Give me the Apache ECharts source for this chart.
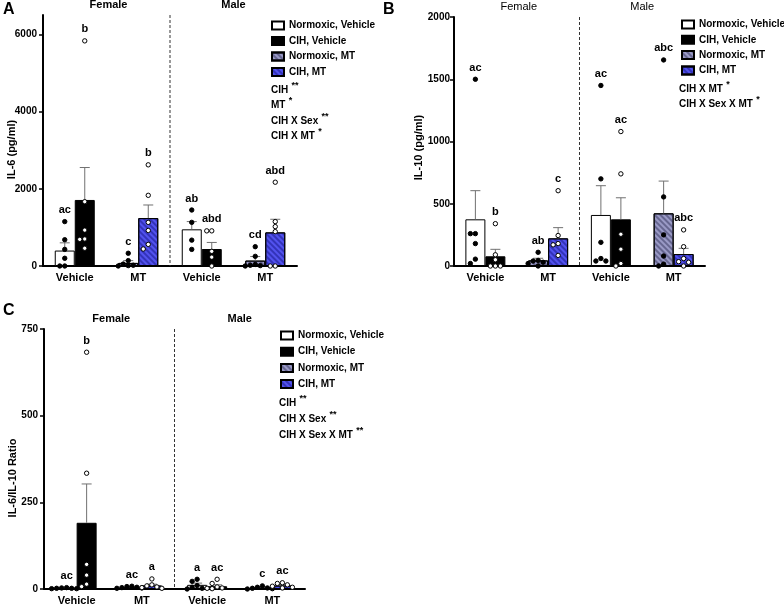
<!DOCTYPE html>
<html>
<head>
<meta charset="utf-8">
<script src="https://cdn.jsdelivr.net/npm/echarts@6/dist/echarts.min.js"></script>
<style>
html, body { margin: 0; padding: 0; background: #fff; }
#main { width: 784px; height: 606px; }
</style>
</head>
<body>
<div id="main"></div>
<script>
var groups = ['Vehicle', 'MT', 'Vehicle', 'MT'];
var seriesNames = ['Normoxic, Vehicle', 'CIH, Vehicle', 'Normoxic, MT', 'CIH, MT'];

// bar order: F-Veh-Norm, F-Veh-CIH, F-MT-Norm, F-MT-CIH, M-Veh-Norm, M-Veh-CIH, M-MT-Norm, M-MT-CIH
var il6Mean = [400, 1710, 80, 1240, 950, 440, 140, 870];
var il6Sem = [200, 840, 60, 340, 200, 170, 105, 340];
var il6Points = [
  [1150, 680, 430, 200, 0, 0],
  [5830, 1665, 930, 700, 690, 460],
  [330, 140, 50, 20, 10, 0],
  [2620, 1830, 1130, 920, 560, 440],
  [1450, 1130, 670, 430],
  [910, 910, 380, 230, 0],
  [500, 250, 40, 20, 10, 0],
  [2170, 1150, 1020, 890, 0, 0]
];
var il6Letters = ['ac', 'b', 'c', 'b', 'ab', 'abd', 'cd', 'abd'];

var il10Mean = [375, 78, 45, 222, 410, 375, 423, 96];
var il10Sem = [230, 56, 17, 86, 235, 173, 259, 46];
var il10Points = [
  [1500, 260, 260, 180, 55, 20],
  [340, 90, 50, 0, 0, 0],
  [110, 45, 40, 30, 20, 0],
  [605, 245, 180, 170, 85],
  [1450, 700, 190, 60, 40, 40],
  [1080, 740, 255, 135, 20, 0],
  [1655, 555, 250, 80, 15, 0],
  [290, 155, 60, 35, 30, 0]
];
var il10Letters = ['ac', 'b', 'ab', 'c', 'ac', 'ac', 'abc', 'abc'];

var ratioMean = [2, 191, 5, 10, 12, 8, 4, 10];
var ratioSem = [1, 112, 1.5, 4, 5, 4, 1.5, 3];
var ratioPoints = [
  [4, 3, 2, 2, 1, 1],
  [683, 334, 71, 40, 14, 7],
  [8, 7, 5, 4, 3, 2],
  [29, 12, 9, 6, 4, 2],
  [28, 22, 10, 5, 2, 0],
  [28, 16, 6, 3, 2, 1],
  [9, 5, 3, 2, 1, 0],
  [18, 16, 12, 8, 5, 3]
];
var ratioLetters = ['ac', 'b', 'ac', 'a', 'a', 'ac', 'c', 'ac'];

var statsA = [['CIH', '**'], ['MT', '*'], ['CIH X Sex', '**'], ['CIH X MT', '*']];
var statsB = [['CIH X MT', '*'], ['CIH X Sex X MT', '*']];
var statsC = [['CIH', '**'], ['CIH X Sex', '**'], ['CIH X Sex X MT', '**']];

var FONT = '"Liberation Sans", Arial, sans-serif';

var panels = [
  { tag: 'A', tagPos: [3, 2], grid: { left: 43, top: 15, width: 254, height: 251 }, max: 6500, ticks: [0, 2000, 4000, 6000],
    name: 'IL-6 (pg/ml)', nameGap: 26, nameShift: 18, labelMargin: 6, mean: il6Mean, sem: il6Sem, pts: il6Points, letters: il6Letters,
    legend: [266, 15], row: 15.5, stats: statsA, statsPos: [271, 81], headBold: true },
  { tag: 'B', tagPos: [383, 2], grid: { left: 454, top: 17, width: 251, height: 249 }, max: 2000, ticks: [0, 500, 1000, 1500, 2000],
    name: 'IL-10 (pg/ml)', nameGap: 30, nameShift: 12, labelMargin: 4, mean: il10Mean, sem: il10Sem, pts: il10Points, letters: il10Letters,
    legend: [676, 14], row: 15.3, stats: statsB, statsPos: [679, 80], headBold: false },
  { tag: 'C', tagPos: [3, 303], grid: { left: 44, top: 329, width: 261, height: 260 }, max: 750, ticks: [0, 250, 500, 750],
    name: 'IL-6/IL-10 Ratio', nameGap: 26, nameShift: 38, labelMargin: 6, mean: ratioMean, sem: ratioSem, pts: ratioPoints, letters: ratioLetters,
    legend: [275, 325], row: 16.2, stats: statsC, statsPos: [279, 394], headBold: true }
];

var barStyles = [
  { color: '#ffffff', borderColor: '#000', borderWidth: 1 },
  { color: '#000000', borderColor: '#000', borderWidth: 1 },
  { color: '#9a9ac6', borderColor: '#000', borderWidth: 1,
    decal: { symbol: 'rect', symbolSize: 1, dashArrayX: [1, 0], dashArrayY: [1.5, 2], rotation: Math.PI / 4, color: 'rgba(60,60,100,0.55)' } },
  { color: '#5252ee', borderColor: '#000', borderWidth: 1,
    decal: { symbol: 'rect', symbolSize: 1, dashArrayX: [1, 0], dashArrayY: [1.5, 2], rotation: Math.PI / 4, color: 'rgba(30,30,150,0.6)' } }
];

// simple beeswarm so equal values sit side by side
function swarm(values, pxPerUnit) {
  var order = values.map(function (v, i) { return i; })
    .sort(function (a, b) { return values[b] - values[a]; });
  var placed = [], dx = [];
  var d = 5, cands = [0, -d, d, -2 * d, 2 * d, -3 * d, 3 * d];
  order.forEach(function (i) {
    var y = values[i] * pxPerUnit, x = 0;
    for (var k = 0; k < cands.length; k++) {
      x = cands[k];
      var ok = true;
      for (var j = 0; j < placed.length; j++) {
        var a = placed[j][0] - x, b = placed[j][1] - y;
        if (a * a + b * b < d * d * 0.95) { ok = false; break; }
      }
      if (ok) break;
    }
    placed.push([x, y]);
    dx[i] = x;
  });
  return dx;
}

var option = { animation: false, grid: [], xAxis: [], yAxis: [], legend: [], series: [], graphic: [] };

panels.forEach(function (p, pi) {
  option.grid.push(p.grid);
  option.xAxis.push({
    type: 'category', gridIndex: pi, data: groups,
    axisLine: { lineStyle: { color: '#000', width: 2 } },
    axisTick: { alignWithLabel: true, length: 4, lineStyle: { color: '#000', width: 1.5 } },
    axisLabel: { color: '#000', fontFamily: FONT, fontWeight: 'bold', fontSize: 11, margin: 6 }
  });
  option.yAxis.push({
    type: 'value', gridIndex: pi, min: 0, max: p.max,
    name: p.name, nameLocation: 'middle', nameGap: p.nameGap, nameMoveOverlap: false,
    nameTextStyle: { color: '#000', fontFamily: FONT, fontWeight: 'bold', fontSize: 11, padding: [0, p.nameShift, 0, 0] },
    splitLine: { show: false },
    axisLine: { show: true, lineStyle: { color: '#000', width: 2 } },
    axisTick: { show: true, length: 4, customValues: p.ticks, lineStyle: { color: '#000', width: 1.5 } },
    axisLabel: { customValues: p.ticks, color: '#000', fontFamily: FONT, fontWeight: 'bold', fontSize: 10, margin: p.labelMargin,
      formatter: function (v) { return String(v); } }
  });

  // bars: two stacks per group (normoxic left, CIH right)
  seriesNames.forEach(function (nm, k) {
    var side = k % 2, isMT = k >= 2 ? 1 : 0;
    var data = groups.map(function (g, c) {
      return (c % 2 === isMT) ? p.mean[c * 2 + side] : '-';
    });
    option.series.push({
      type: 'bar', name: nm, xAxisIndex: pi, yAxisIndex: pi, stack: (side ? 'cih' : 'norm') + pi,
      barWidth: 20, barGap: '0%', data: data, itemStyle: barStyles[k], z: 2,
      emphasis: { disabled: true }
    });
  });

  var pxPerUnit = p.grid.height / p.max;
  var errData = [], dotData = [], letterData = [];
  p.mean.forEach(function (m, b) {
    var c = Math.floor(b / 2), side = b % 2;
    errData.push([c, m, side, p.sem[b]]);
    var dx = swarm(p.pts[b], pxPerUnit);
    p.pts[b].forEach(function (v, i) { dotData.push([c, v, side, dx[i]]); });
    letterData.push([c, Math.max(m + p.sem[b], Math.max.apply(null, p.pts[b])), side]);
  });

  option.series.push({
    type: 'custom', xAxisIndex: pi, yAxisIndex: pi, z: 3, silent: true, data: errData,
    encode: { x: 0, y: 1 },
    renderItem: function (params, api) {
      var c = api.value(0), m = api.value(1), side = api.value(2), s = api.value(3);
      var base = api.coord([c, m]), top = api.coord([c, m + s]);
      var x = base[0] + (side ? 10 : -10);
      return { type: 'group', children: [
        { type: 'line', shape: { x1: x, y1: base[1], x2: x, y2: top[1] }, style: { stroke: '#707070', lineWidth: 1 } },
        { type: 'line', shape: { x1: x - 5, y1: top[1], x2: x + 5, y2: top[1] }, style: { stroke: '#707070', lineWidth: 1 } }
      ] };
    }
  });

  option.series.push({
    type: 'custom', xAxisIndex: pi, yAxisIndex: pi, z: 4, silent: true, data: dotData,
    encode: { x: 0, y: 1 },
    renderItem: function (params, api) {
      var c = api.value(0), v = api.value(1), side = api.value(2), dx = api.value(3);
      var pt = api.coord([c, v]);
      return { type: 'circle', shape: { cx: pt[0] + (side ? 10 : -10) + dx, cy: pt[1], r: 2.2 },
        style: { fill: side ? '#fff' : '#000', stroke: '#000', lineWidth: 1 } };
    }
  });

  option.series.push({
    type: 'custom', xAxisIndex: pi, yAxisIndex: pi, z: 4, silent: true, data: letterData,
    encode: { x: 0, y: 1 },
    renderItem: function (params, api) {
      var c = api.value(0), v = api.value(1), side = api.value(2);
      var pt = api.coord([c, v]);
      return { type: 'text', x: pt[0] + (side ? 10 : -10), y: pt[1] - 6,
        style: { text: p.letters[params.dataIndex], fill: '#000', font: 'bold 11px ' + FONT, align: 'center', verticalAlign: 'bottom' } };
    }
  });

  // sex divider and headers
  option.series.push({
    type: 'custom', xAxisIndex: pi, yAxisIndex: pi, z: 1, silent: true, data: [[0, 0]],
    renderItem: function (params, api) {
      var p0 = api.coord([0, 0]), p1 = api.coord([1, 0]), p2 = api.coord([2, 0]), p3 = api.coord([3, 0]);
      var topY = api.coord([0, p.max])[1];
      var xd = (p1[0] + p2[0]) / 2;
      var f = (p.headBold ? 'bold ' : '') + '11px ' + FONT;
      return { type: 'group', children: [
        { type: 'line', shape: { x1: xd, y1: topY, x2: xd, y2: p0[1] }, style: { stroke: '#333', lineWidth: 1, lineDash: [3, 2] } },
        { type: 'text', x: (p0[0] + p1[0]) / 2 + 2, y: topY - 10, style: { text: 'Female', fill: '#000', font: f, align: 'center', verticalAlign: 'middle' } },
        { type: 'text', x: (p2[0] + p3[0]) / 2, y: topY - 10, style: { text: 'Male', fill: '#000', font: f, align: 'center', verticalAlign: 'middle' } }
      ] };
    }
  });

  option.legend.push({
    orient: 'vertical', left: p.legend[0], top: p.legend[1], data: seriesNames,
    icon: 'rect', itemWidth: 12, itemHeight: 8, itemGap: p.row - 11, selectedMode: false,
    textStyle: { color: '#000', fontFamily: FONT, fontWeight: 'bold', fontSize: 10, lineHeight: 11 }
  });

  p.stats.forEach(function (s, i) {
    option.graphic.push({
      type: 'text', left: p.statsPos[0], top: p.statsPos[1] + i * p.row,
      style: {
        text: '{t|' + s[0] + '} {s|' + s[1] + '}',
        rich: {
          t: { fontFamily: FONT, fontWeight: 'bold', fontSize: 10, fill: '#000', lineHeight: 14, verticalAlign: 'bottom' },
          s: { fontFamily: FONT, fontWeight: 'bold', fontSize: 9, fill: '#000', lineHeight: 14, verticalAlign: 'top' }
        }
      }
    });
  });

  option.graphic.push({
    type: 'text', left: p.tagPos[0], top: p.tagPos[1],
    style: { text: p.tag, font: 'bold 16px ' + FONT, fill: '#000' }
  });
});

var chart = echarts.init(document.getElementById('main'));
chart.setOption(option);
</script>
</body>
</html>
